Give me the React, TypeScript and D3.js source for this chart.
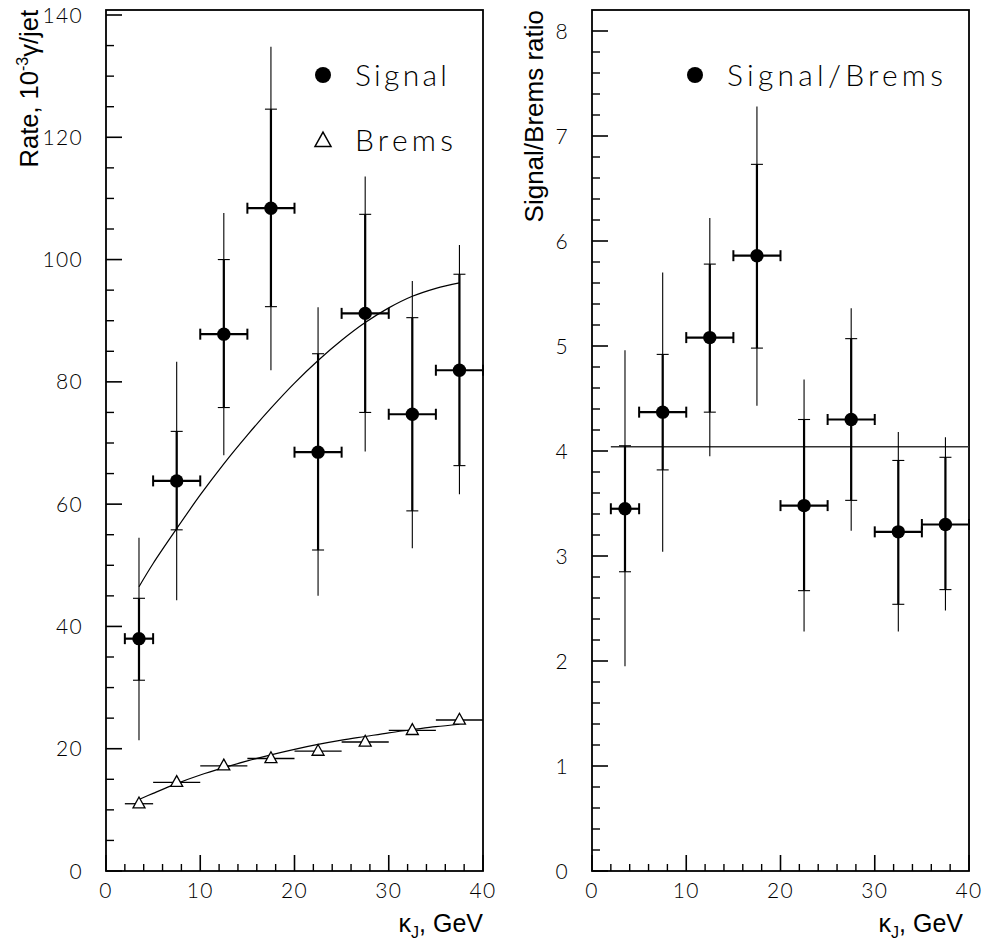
import React from 'react';
import * as d3 from 'd3';

// ---------- data ----------
const binLo = [2, 5, 10, 15, 20, 25, 30, 35];
const binHi = [5, 10, 15, 20, 25, 30, 35, 40];
const binCenter = [3.5, 7.5, 12.5, 17.5, 22.5, 27.5, 32.5, 37.5];

const signal = [38.0, 63.8, 87.8, 108.4, 68.5, 91.2, 74.7, 81.9];
const signalStatHi = [44.6, 71.9, 100.0, 124.6, 84.6, 107.4, 90.5, 97.6];
const signalStatLo = [31.2, 55.8, 75.8, 92.3, 52.5, 75.0, 58.9, 66.3];
const signalTotHi = [54.5, 83.3, 107.6, 134.8, 92.2, 113.6, 96.5, 102.4];
const signalTotLo = [21.4, 44.3, 68.0, 81.9, 45.0, 68.6, 52.8, 61.6];

const brems = [11.0, 14.5, 17.2, 18.4, 19.6, 21.1, 23.0, 24.7];

const fitX = [3.5, 5, 7.5, 10, 12.5, 15, 17.5, 20, 22.5, 25, 27.5, 30, 32.5, 35, 37.5];
const signalFit = [46.5, 50.3, 56.0, 61.5, 66.6, 71.3, 75.7, 79.8, 83.5, 86.8, 89.7, 92.1, 94.0, 95.3, 96.2];
const bremsFit = [11.7, 12.7, 14.3, 15.7, 16.9, 18.0, 19.0, 19.9, 20.7, 21.4, 22.0, 22.6, 23.1, 23.6, 24.0];

const ratio = [3.45, 4.37, 5.08, 5.86, 3.48, 4.30, 3.23, 3.30];
const ratioStatHi = [4.05, 4.92, 5.78, 6.73, 4.30, 5.07, 3.91, 3.94];
const ratioStatLo = [2.85, 3.82, 4.37, 4.98, 2.67, 3.53, 2.54, 2.68];
const ratioTotHi = [4.96, 5.70, 6.22, 7.28, 4.68, 5.36, 4.18, 4.13];
const ratioTotLo = [1.95, 3.04, 3.95, 4.43, 2.28, 3.24, 2.28, 2.48];
const ratioFitValue = 4.04;
const ratioFitRange = [2, 40];

const xTickLabels = [0, 10, 20, 30, 40];
const leftYTickLabels = [0, 20, 40, 60, 80, 100, 120, 140];
const rightYTickLabels = [0, 1, 2, 3, 4, 5, 6, 7, 8];

// ---------- style ----------
const SVG_WIDTH = 993;
const SVG_HEIGHT = 943;
const TICK_FONT = "Lato, 'Open Sans', sans-serif";
const TITLE_FONT = "'Liberation Sans', Arial, sans-serif";
const FRAME_TOP = 10;
const FRAME_BOTTOM = 871;

function Axes(props: any) {
  const { x, y, majorY, minorYStep, yMax } = props;
  const r = x.range();
  const x0 = r[0];
  const x1 = r[1];
  const minorY = d3.range(0, yMax + 1e-9, minorYStep).filter((v: number) => !majorY.some((m: number) => Math.abs(m - v) < 1e-6));
  const minorX = d3.range(0, 40.001, 2).filter((v: number) => v % 10 !== 0);
  return (
    <g>
      <rect x={x0} y={FRAME_TOP} width={x1 - x0} height={FRAME_BOTTOM - FRAME_TOP} fill="none" stroke="#000" strokeWidth={1.8} />
      {majorY.map((v: number) => (
        <line key={'my' + v} x1={x0} x2={x0 + 16} y1={y(v)} y2={y(v)} stroke="#000" strokeWidth={1.6} />
      ))}
      {minorY.map((v: number) => (
        <line key={'ny' + v} x1={x0} x2={x0 + 8} y1={y(v)} y2={y(v)} stroke="#000" strokeWidth={1.4} />
      ))}
      {xTickLabels.map((v: number) => (
        <line key={'mx' + v} x1={x(v)} x2={x(v)} y1={FRAME_BOTTOM} y2={FRAME_BOTTOM - 16} stroke="#000" strokeWidth={1.6} />
      ))}
      {minorX.map((v: number) => (
        <line key={'nx' + v} x1={x(v)} x2={x(v)} y1={FRAME_BOTTOM} y2={FRAME_BOTTOM - 7} stroke="#000" strokeWidth={1.4} />
      ))}
      {majorY.map((v: number) => (
        <text key={'ly' + v} x={x0 - 23} y={y(v)} dy="0.36em" textAnchor="end" fontFamily={TICK_FONT} fontWeight={300} fontSize={21} letterSpacing={1.3}>{v}</text>
      ))}
      {xTickLabels.map((v: number) => (
        <text key={'lx' + v} x={x(v)} y={898} textAnchor="middle" fontFamily={TICK_FONT} fontWeight={300} fontSize={21} letterSpacing={1.3}>{v}</text>
      ))}
    </g>
  );
}

function ErrorPoints(props: any) {
  const { x, y, c, stHi, stLo, toHi, toLo } = props;
  return (
    <g>
      {binCenter.map((xc: number, i: number) => {
        const px = x(xc);
        return (
          <g key={i}>
            <line x1={px} x2={px} y1={y(toHi[i])} y2={y(toLo[i])} stroke="#000" strokeWidth={1.1} />
            <line x1={px} x2={px} y1={y(stHi[i])} y2={y(stLo[i])} stroke="#000" strokeWidth={2.2} />
            <line x1={px - 6} x2={px + 6} y1={y(stHi[i])} y2={y(stHi[i])} stroke="#000" strokeWidth={1.1} />
            <line x1={px - 6} x2={px + 6} y1={y(stLo[i])} y2={y(stLo[i])} stroke="#000" strokeWidth={1.1} />
            <line x1={x(binLo[i])} x2={x(binHi[i])} y1={y(c[i])} y2={y(c[i])} stroke="#000" strokeWidth={2.2} />
            <line x1={x(binLo[i])} x2={x(binLo[i])} y1={y(c[i]) - 5.5} y2={y(c[i]) + 5.5} stroke="#000" strokeWidth={2} />
            <line x1={x(binHi[i])} x2={x(binHi[i])} y1={y(c[i]) - 5.5} y2={y(c[i]) + 5.5} stroke="#000" strokeWidth={2} />
            <circle cx={px} cy={y(c[i])} r={6.7} fill="#000" />
          </g>
        );
      })}
    </g>
  );
}

function triPath(cx: number, cy: number, s: number) {
  const h = s * 0.9;
  return `M${cx},${cy - h * 0.62}L${cx + s / 2},${cy + h * 0.38}L${cx - s / 2},${cy + h * 0.38}Z`;
}

export default function App() {
  const xL = d3.scaleLinear().domain([0, 40]).range([106, 483]);
  const yL = d3.scaleLinear().domain([0, 140]).range([FRAME_BOTTOM, 15]);
  const xR = d3.scaleLinear().domain([0, 40]).range([592, 969]);
  const yR = d3.scaleLinear().domain([0, 8]).range([FRAME_BOTTOM, 31]);

  const lineL = d3.line<number>().x((_d: number, i: number) => xL(fitX[i])).y((d: number) => yL(d)).curve(d3.curveCatmullRom.alpha(0.5));

  return (
    <svg width={SVG_WIDTH} height={SVG_HEIGHT} style={{ position: 'absolute', left: 0, top: 0, background: '#fff' }}>
      <rect x={0} y={0} width={SVG_WIDTH} height={SVG_HEIGHT} fill="#fff" />
      {/* Left panel */}
      <Axes x={xL} y={yL} majorY={leftYTickLabels} minorYStep={5} yMax={140} />
      <path d={lineL(signalFit) || ''} fill="none" stroke="#000" strokeWidth={1.2} />
      <path d={lineL(bremsFit) || ''} fill="none" stroke="#000" strokeWidth={1.2} />
      {binCenter.map((xc: number, i: number) => (
        <g key={'b' + i}>
          <line x1={xL(binLo[i])} x2={xL(binHi[i])} y1={yL(brems[i])} y2={yL(brems[i])} stroke="#000" strokeWidth={1.3} />
          <path d={triPath(xL(xc), yL(brems[i]), 12)} fill="#fff" stroke="#000" strokeWidth={1.3} />
        </g>
      ))}
      <ErrorPoints x={xL} y={yL} c={signal} stHi={signalStatHi} stLo={signalStatLo} toHi={signalTotHi} toLo={signalTotLo} />
      {/* Legend left */}
      <circle cx={323} cy={75} r={8} fill="#000" />
      <text x={355} y={86} fontFamily={TICK_FONT} fontWeight={300} fontSize={30} textLength={92} lengthAdjust="spacing">Signal</text>
      <path d={triPath(323, 141, 16)} fill="#fff" stroke="#000" strokeWidth={1.5} />
      <text x={355} y={151} fontFamily={TICK_FONT} fontWeight={300} fontSize={30} textLength={98} lengthAdjust="spacing">Brems</text>
      {/* Left titles */}
      <text transform={`translate(38,${FRAME_TOP}) rotate(-90)`} textAnchor="end" fontFamily={TITLE_FONT} fontSize={25.5}>
        Rate, 10<tspan fontSize={16} dy={-10}>-3</tspan><tspan dy={10}>γ/jet</tspan>
      </text>
      <text x={483} y={932} textAnchor="end" fontFamily={TITLE_FONT} fontSize={25}>
        κ<tspan fontSize={16} dy={6}>J</tspan><tspan dy={-6}>, GeV</tspan>
      </text>

      {/* Right panel */}
      <Axes x={xR} y={yR} majorY={rightYTickLabels} minorYStep={0.2} yMax={8} />
      <line x1={xR(ratioFitRange[0])} x2={xR(ratioFitRange[1])} y1={yR(ratioFitValue)} y2={yR(ratioFitValue)} stroke="#333" strokeWidth={1.4} />
      <ErrorPoints x={xR} y={yR} c={ratio} stHi={ratioStatHi} stLo={ratioStatLo} toHi={ratioTotHi} toLo={ratioTotLo} />
      <circle cx={695} cy={75} r={8} fill="#000" />
      <text x={727} y={86} fontFamily={TICK_FONT} fontWeight={300} fontSize={30} textLength={216} lengthAdjust="spacing">Signal/Brems</text>
      <text transform={`translate(543,${FRAME_TOP}) rotate(-90)`} textAnchor="end" fontFamily={TITLE_FONT} fontSize={26}>
        Signal/Brems ratio
      </text>
      <text x={963} y={932} textAnchor="end" fontFamily={TITLE_FONT} fontSize={25}>
        κ<tspan fontSize={16} dy={6}>J</tspan><tspan dy={-6}>, GeV</tspan>
      </text>
    </svg>
  );
}
